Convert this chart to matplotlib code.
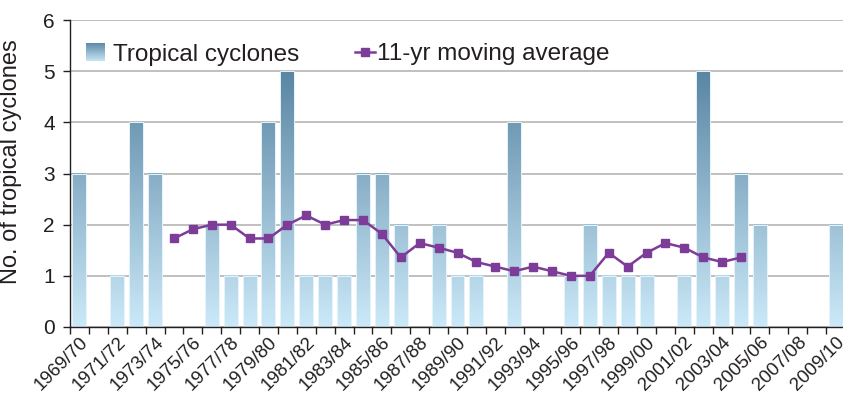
import numpy as np
import matplotlib
matplotlib.use("Agg")
import matplotlib.pyplot as plt
from matplotlib.colors import LinearSegmentedColormap, Normalize
from matplotlib.legend_handler import HandlerBase
from matplotlib.image import BboxImage
from matplotlib.transforms import Bbox, TransformedBbox, ScaledTranslation
from matplotlib.lines import Line2D
from matplotlib.patches import Rectangle

plt.rcParams['font.family'] = ['Liberation Sans', 'DejaVu Sans']

seasons = [f"{y}/{str(y + 1)[-2:]}" for y in range(1969, 2010)]
cyclones = [3, 0, 1, 4, 3, 0, 0, 2, 1, 1, 4, 5, 1, 1, 1, 3, 3, 2, 0, 2, 1,
            1, 0, 4, 0, 0, 1, 2, 1, 1, 1, 0, 1, 5, 1, 3, 2, 0, 0, 0, 2]
ma_start = 5
moving_avg = [1.73, 1.91, 2.00, 2.00, 1.73, 1.73, 2.00, 2.18, 2.00, 2.09,
              2.09, 1.82, 1.36, 1.64, 1.55, 1.45, 1.27, 1.18, 1.09, 1.18,
              1.09, 1.00, 1.00, 1.45, 1.18, 1.45, 1.64, 1.55, 1.36, 1.27, 1.36]
tick_labels = seasons[::2]

TEXT = '#231f20'
PURPLE = '#7d3c98'
cmap = LinearSegmentedColormap.from_list('cyc', ['#cbe9f8', '#5a86a4'])
norm = Normalize(0, 5)

fig = plt.figure(figsize=(8.43, 4.0), dpi=100)
ax = fig.add_axes([70 / 843, 73 / 400, 775 / 843, 307 / 400])

x = np.arange(len(seasons))
bars = ax.bar(x, cyclones, width=0.74, facecolor='none', edgecolor='none', zorder=2)
for rect, h in zip(bars.patches, cyclones):
    if h <= 0:
        continue
    x0 = rect.get_x()
    w = rect.get_width()
    grad = np.linspace(h, 0, 200).reshape(-1, 1)
    ax.imshow(grad, extent=(x0, x0 + w, 0, h), cmap=cmap, norm=norm,
              aspect='auto', zorder=2, interpolation='bilinear')
    ax.add_patch(Rectangle((x0, 0), w, h, facecolor='none',
                           edgecolor='#e6f3fa', linewidth=0.7, zorder=2.1))

ma_x = x[ma_start:ma_start + len(moving_avg)]
ax.plot(ma_x, moving_avg, color=PURPLE, lw=1.8, marker='s', markersize=5.5,
        zorder=3)

ax.set_xlim(-0.5, len(seasons) - 0.5)
ax.set_ylim(0, 6)
ax.set_yticks(range(0, 7))
ax.yaxis.grid(True, color='#b5b5b5', lw=1.2, zorder=0)
ax.set_axisbelow(True)
for s in ['top', 'right']:
    ax.spines[s].set_visible(False)
for s in ['left', 'bottom']:
    ax.spines[s].set_color('#231f20')
    ax.spines[s].set_linewidth(1.0)

ax.set_xticks(np.arange(-0.5, len(seasons), 1.0))
ax.set_xticklabels([])
ax.set_xticks(x[::2], minor=True)
ax.set_xticklabels(tick_labels, minor=True, rotation=45, ha='right',
                   rotation_mode='anchor', fontsize=13.5, color=TEXT)
shift = ScaledTranslation(-4 / 100, 0, fig.dpi_scale_trans)
for lbl in ax.get_xticklabels(minor=True):
    lbl.set_transform(lbl.get_transform() + shift)
ax.tick_params(axis='x', which='major', length=5, width=1, color=TEXT, direction='out')
ax.tick_params(axis='x', which='minor', length=0, pad=5)
ax.tick_params(axis='y', length=5, width=1, color=TEXT, labelsize=15,
               labelcolor=TEXT, pad=6)
ax.set_ylabel('No. of tropical cyclones', fontsize=17, color=TEXT)
ax.yaxis.set_label_coords(-0.062, 0.54)


class GradientHandler(HandlerBase):
    def create_artists(self, legend, orig_handle, xdescent, ydescent,
                       width, height, fontsize, trans):
        bb = Bbox.from_bounds(-xdescent, -ydescent, width, height)
        tbb = TransformedBbox(bb, trans)
        img = BboxImage(tbb, cmap=cmap, norm=norm, interpolation='bilinear')
        img.set_data(np.linspace(4.8, 0.2, 100).reshape(-1, 1))
        return [img]


bar_handle = Rectangle((0, 0), 1, 1)
leg1 = ax.legend([bar_handle], ['Tropical cyclones'],
                 handler_map={Rectangle: GradientHandler()},
                 loc='upper left', bbox_to_anchor=(-0.007, 0.995), frameon=False,
                 fontsize=17.5, handlelength=0.75, handleheight=0.75,
                 handletextpad=0.35, labelcolor=TEXT)
ax.add_artist(leg1)
line_handle = Line2D([], [], color=PURPLE, lw=1.8, marker='s', markersize=5.5)
ax.legend([line_handle], ['11-yr moving average'], loc='upper left',
          bbox_to_anchor=(0.34, 0.995), frameon=False, fontsize=17.5,
          handlelength=0.8, handletextpad=0.1, labelcolor=TEXT)

fig.savefig('out.png', dpi=100)
